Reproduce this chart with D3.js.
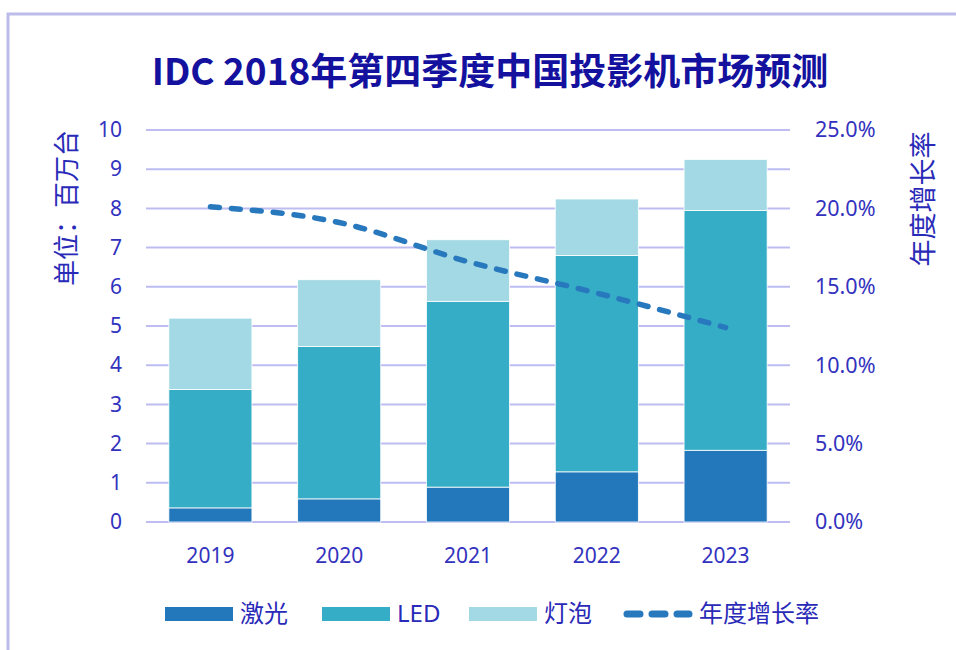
<!DOCTYPE html>
<html>
<head>
<meta charset="utf-8">
<script src="https://cdn.jsdelivr.net/npm/d3@7"></script>
<style>
  html, body { margin: 0; padding: 0; background: #fff; }
  svg { display: block; font-family: "Noto Sans CJK SC", "Noto Sans", sans-serif; }
</style>
</head>
<body>
<svg id="chart" width="956" height="650"></svg>
<script>
// data (millions of units / yearly growth)
const years   = ['2019', '2020', '2021', '2022', '2023'];
const laser   = [0.36, 0.59, 0.89, 1.28, 1.83];
const led     = [3.02, 3.89, 4.74, 5.52, 6.12];
const bulb    = [1.82, 1.70, 1.57, 1.44, 1.30];
const growth  = [0.201, 0.191, 0.166, 0.146, 0.124];
const leftTicks  = [0, 1, 2, 3, 4, 5, 6, 7, 8, 9, 10];
const rightTicks = [0, 0.05, 0.10, 0.15, 0.20, 0.25];
const seriesNames = ['激光', 'LED', '灯泡'];
const lineName = '年度增长率';

const colors = { '激光': '#2378BB', 'LED': '#36ADC6', '灯泡': '#A2D9E4' };
const lineColor = '#2878BE';
const textColor = '#3232BE';
const gridColor = '#BDBDF2';

const svg = d3.select('#chart');
const m = { left: 146, right: 790, top: 130, bottom: 522 };

// frame
svg.append('path')
  .attr('d', 'M8,660 L8,14 L970,14')
  .attr('fill', 'none').attr('stroke', '#BCBCEA').attr('stroke-width', 3);

svg.append('text')
  .attr('x', 490).attr('y', 85)
  .attr('text-anchor', 'middle')
  .attr('font-size', 37).attr('font-weight', 'bold')
  .attr('fill', '#14119E')
  .text('IDC 2018年第四季度中国投影机市场预测');

const x = d3.scaleBand().domain(years).range([m.left, m.right]).paddingInner(0.355).paddingOuter(0.1775);
const y = d3.scaleLinear().domain([0, 10]).range([m.bottom, m.top]);
const y2 = d3.scaleLinear().domain([0, 0.25]).range([m.bottom, m.top]);

// grid
svg.append('g').selectAll('line').data(leftTicks).join('line')
  .attr('x1', m.left).attr('x2', m.right)
  .attr('y1', d => y(d)).attr('y2', d => y(d))
  .attr('stroke', gridColor).attr('stroke-width', 2);

// left axis
const yAxis = svg.append('g').attr('transform', `translate(${m.left},0)`)
  .call(d3.axisLeft(y).tickValues(leftTicks).tickSize(0).tickPadding(24));
yAxis.select('.domain').remove();
yAxis.selectAll('text').attr('font-size', 21).attr('fill', textColor).attr('font-family', '"Noto Sans", sans-serif');

// right axis
const y2Axis = svg.append('g').attr('transform', `translate(${m.right},0)`)
  .call(d3.axisRight(y2).tickValues(rightTicks).tickFormat(d3.format('.1%')).tickSize(0).tickPadding(25));
y2Axis.select('.domain').remove();
y2Axis.selectAll('text').attr('font-size', 21.5).attr('fill', textColor).attr('font-family', '"Noto Sans", sans-serif');

// x axis
const xAxis = svg.append('g').attr('transform', `translate(0,${m.bottom})`)
  .call(d3.axisBottom(x).tickSize(0).tickPadding(26));
xAxis.select('.domain').remove();
xAxis.selectAll('text').attr('font-size', 21).attr('fill', textColor).attr('font-family', '"Noto Sans", sans-serif');

// axis titles
svg.append('text')
  .attr('transform', 'translate(76,208) rotate(-90)')
  .attr('text-anchor', 'middle').attr('font-size', 26).attr('fill', '#2A2AB8')
  .text('单位：百万台');
svg.append('text')
  .attr('transform', 'translate(933,199) rotate(-90)')
  .attr('text-anchor', 'middle').attr('font-size', 27).attr('fill', '#2A2AB8')
  .text('年度增长率');

// stacked bars
const rows = years.map((yr, i) => ({ year: yr, '激光': laser[i], 'LED': led[i], '灯泡': bulb[i] }));
const stacked = d3.stack().keys(seriesNames)(rows);
svg.append('g').selectAll('g').data(stacked).join('g')
  .attr('fill', d => colors[d.key])
  .selectAll('rect').data(d => d).join('rect')
    .attr('x', d => x(d.data.year))
    .attr('width', x.bandwidth())
    .attr('y', d => y(d[1]))
    .attr('height', d => y(d[0]) - y(d[1]))
    .attr('stroke', '#fff').attr('stroke-width', 0.8);

// growth line
const line = d3.line()
  .x((d, i) => x(years[i]) + x.bandwidth() / 2)
  .y(d => y2(d))
  .curve(d3.curveMonotoneX);
svg.append('path')
  .attr('d', line(growth))
  .attr('fill', 'none').attr('stroke', lineColor)
  .attr('stroke-width', 5.5).attr('stroke-linecap', 'round')
  .attr('stroke-dasharray', '9,12');

// legend
const lg = svg.append('g').attr('font-size', 24).attr('fill', '#2A2AB8');
const items = [
  { name: '激光', x: 165 }, { name: 'LED', x: 322 }, { name: '灯泡', x: 469 }
];
items.forEach(it => {
  lg.append('rect').attr('x', it.x).attr('y', 607).attr('width', 68).attr('height', 14)
    .attr('fill', colors[it.name]);
  lg.append('text').attr('x', it.x + 75).attr('y', 622).text(it.name)
    .attr('font-family', it.name === 'LED' ? '"Noto Sans", sans-serif' : null);
});
lg.append('line').attr('x1', 627).attr('x2', 689).attr('y1', 614).attr('y2', 614)
  .attr('stroke', lineColor).attr('stroke-width', 7).attr('stroke-linecap', 'round')
  .attr('stroke-dasharray', '13,12');
lg.append('text').attr('x', 699).attr('y', 622).text(lineName);
</script>
</body>
</html>
